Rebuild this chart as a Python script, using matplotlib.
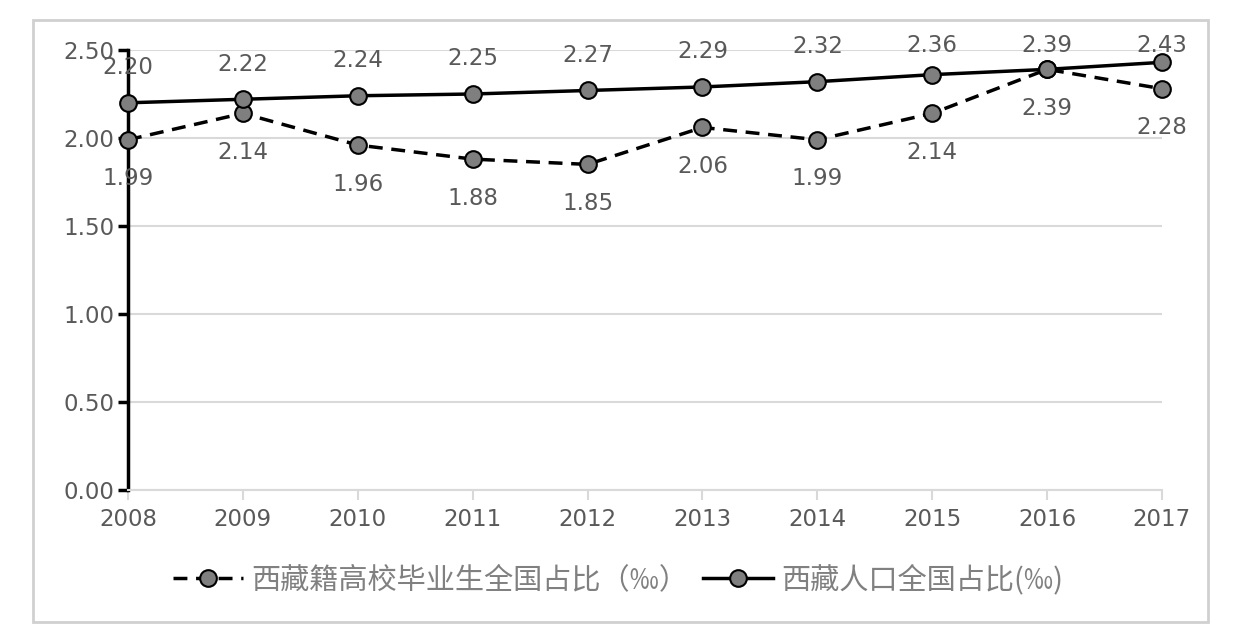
import matplotlib.pyplot as plt
from matplotlib.patches import Rectangle

plt.rcParams['font.family'] = ['DejaVu Sans', 'Noto Sans CJK SC']

years = [2008, 2009, 2010, 2011, 2012, 2013, 2014, 2015, 2016, 2017]
grads = [1.99, 2.14, 1.96, 1.88, 1.85, 2.06, 1.99, 2.14, 2.39, 2.28]
pop = [2.20, 2.22, 2.24, 2.25, 2.27, 2.29, 2.32, 2.36, 2.39, 2.43]
grads_label = "西藏籍高校毕业生全国占比（‰）"
pop_label = "西藏人口全国占比(‰)"
yticks = [0.0, 0.5, 1.0, 1.5, 2.0, 2.5]

txt = '#595959'
W, H = 1248, 637
fig = plt.figure(figsize=(W / 100, H / 100), dpi=100)
ax = fig.add_axes([128 / W, 1 - 490 / H, (1162 - 128) / W, 440 / H])

# outer frame
fig.patches.append(Rectangle((33 / W, 1 - 622 / H), (1208 - 33) / W, (622 - 20) / H,
                             transform=fig.transFigure, fill=False,
                             edgecolor='#d0d0d0', lw=2))

ax.plot(years, grads, ls=(0, (4, 2.5)), color='black', lw=2.5, marker='o',
        ms=12, mfc='#7f7f7f', mec='black', mew=1.5, label=grads_label,
        clip_on=False, zorder=3)
ax.plot(years, pop, ls='-', color='black', lw=2.5, marker='o',
        ms=12, mfc='#7f7f7f', mec='black', mew=1.5, label=pop_label,
        clip_on=False, zorder=3)

# labels above / below, kept inside the plot area like excel does
for x, g, p in zip(years, grads, pop):
    ax.text(x, min(p + 0.199, 2.528), f"{p:.2f}", ha='center', va='center',
            fontsize=16.5, color=txt)
    ax.text(x, g - 0.222, f"{g:.2f}", ha='center', va='center',
            fontsize=16.5, color=txt)

ax.set_xlim(2008, 2017)
ax.set_ylim(0, 2.5)
ax.set_xticks(years)
ax.set_yticks(yticks)
ax.set_yticklabels([f"{v:.2f}" for v in yticks])
ax.yaxis.grid(True, color='#d9d9d9', lw=1.5)
ax.set_axisbelow(True)

for s in ['top', 'right']:
    ax.spines[s].set_visible(False)
ax.spines['left'].set_color('black')
ax.spines['left'].set_linewidth(2.5)
ax.spines['bottom'].set_color('#d9d9d9')
ax.spines['bottom'].set_linewidth(1.5)
ax.tick_params(axis='y', colors='black', labelcolor=txt, labelsize=16.5,
               length=7, width=2.5, pad=3)
ax.tick_params(axis='x', colors='#d9d9d9', labelcolor=txt, labelsize=16.5,
               length=7, width=1.5, pad=6)

leg = ax.legend(loc='center', bbox_to_anchor=(0.474, -0.205), ncol=2, frameon=False,
                handlelength=2.4, handletextpad=0.3, columnspacing=0.5,
                prop={'family': ['Noto Sans CJK SC', 'DejaVu Sans'], 'size': 21})
for t in leg.get_texts():
    t.set_color('#808080')

fig.savefig('out.png', dpi=100)
